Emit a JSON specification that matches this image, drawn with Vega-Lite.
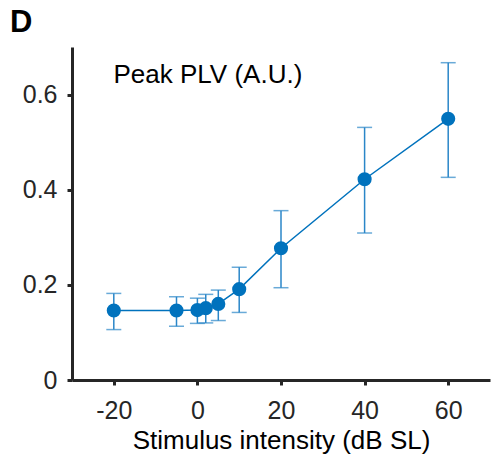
{
  "$schema": "https://vega.github.io/schema/vega-lite/v6.json",
  "autosize": {"type": "none"},
  "width": 418,
  "height": 333,
  "padding": {"left": 72, "top": 47, "right": 1, "bottom": 75},
  "background": "white",
  "title": {"text": "D", "anchor": "start", "frame": "group", "dx": -62, "dy": 30, "offset": 14, "baseline": "alphabetic", "font": "Liberation Sans", "fontSize": 31, "fontWeight": "bold", "color": "#000000"},
  "config": {
    "view": {"stroke": null},
    "font": "Liberation Sans",
    "axis": {"grid": false, "domainColor": "#262626", "domainWidth": 3, "tickColor": "#262626", "tickWidth": 3, "tickSize": 5, "labelColor": "#262626", "labelFont": "Liberation Sans", "labelFontSize": 25, "titleFont": "Liberation Sans", "titleFontWeight": "normal", "titleColor": "#000000"}
  },
  "data": {"values": [
    {"x": -20, "y": 0.146, "lo": 0.106, "hi": 0.182},
    {"x": -5, "y": 0.146, "lo": 0.113, "hi": 0.175},
    {"x": 0, "y": 0.147, "lo": 0.119, "hi": 0.172},
    {"x": 2, "y": 0.151, "lo": 0.120, "hi": 0.180},
    {"x": 5, "y": 0.160, "lo": 0.125, "hi": 0.189},
    {"x": 10, "y": 0.191, "lo": 0.142, "hi": 0.237},
    {"x": 20, "y": 0.277, "lo": 0.194, "hi": 0.356},
    {"x": 40, "y": 0.422, "lo": 0.309, "hi": 0.531},
    {"x": 60, "y": 0.549, "lo": 0.426, "hi": 0.667}
  ]},
  "encoding": {
    "x": {"field": "x", "type": "quantitative", "scale": {"domain": [-30, 70], "nice": false, "zero": false},
      "axis": {"values": [-20, 0, 20, 40, 60], "labelExpr": "'' + datum.value", "labelPadding": 13, "title": "Stimulus intensity (dB SL)", "titleFontSize": 26, "titleY": 68, "titleBaseline": "alphabetic"}}
  },
  "layer": [
    {
      "mark": {"type": "errorbar", "color": "#2a86c8", "thickness": 1.5, "ticks": {"size": 15, "thickness": 1.5}},
      "encoding": {
        "y": {"field": "lo", "type": "quantitative", "scale": {"domain": [0, 0.7], "nice": false},
          "axis": {"values": [0, 0.2, 0.4, 0.6], "labelExpr": "datum.value == 0 ? '0' : format(datum.value, '.1f')", "labelPadding": 10,
            "title": "Peak PLV (A.U.)", "titleAngle": 0, "titleAlign": "left", "titleBaseline": "alphabetic", "titleX": 41, "titleY": 35, "titleFontSize": 26}},
        "y2": {"field": "hi"}
      }
    },
    {
      "mark": {"type": "line", "color": "#0072BD", "strokeWidth": 1.5},
      "encoding": {"y": {"field": "y", "type": "quantitative"}}
    },
    {
      "mark": {"type": "point", "filled": true, "color": "#0072BD", "opacity": 1, "size": 200},
      "encoding": {"y": {"field": "y", "type": "quantitative"}}
    }
  ]
}
